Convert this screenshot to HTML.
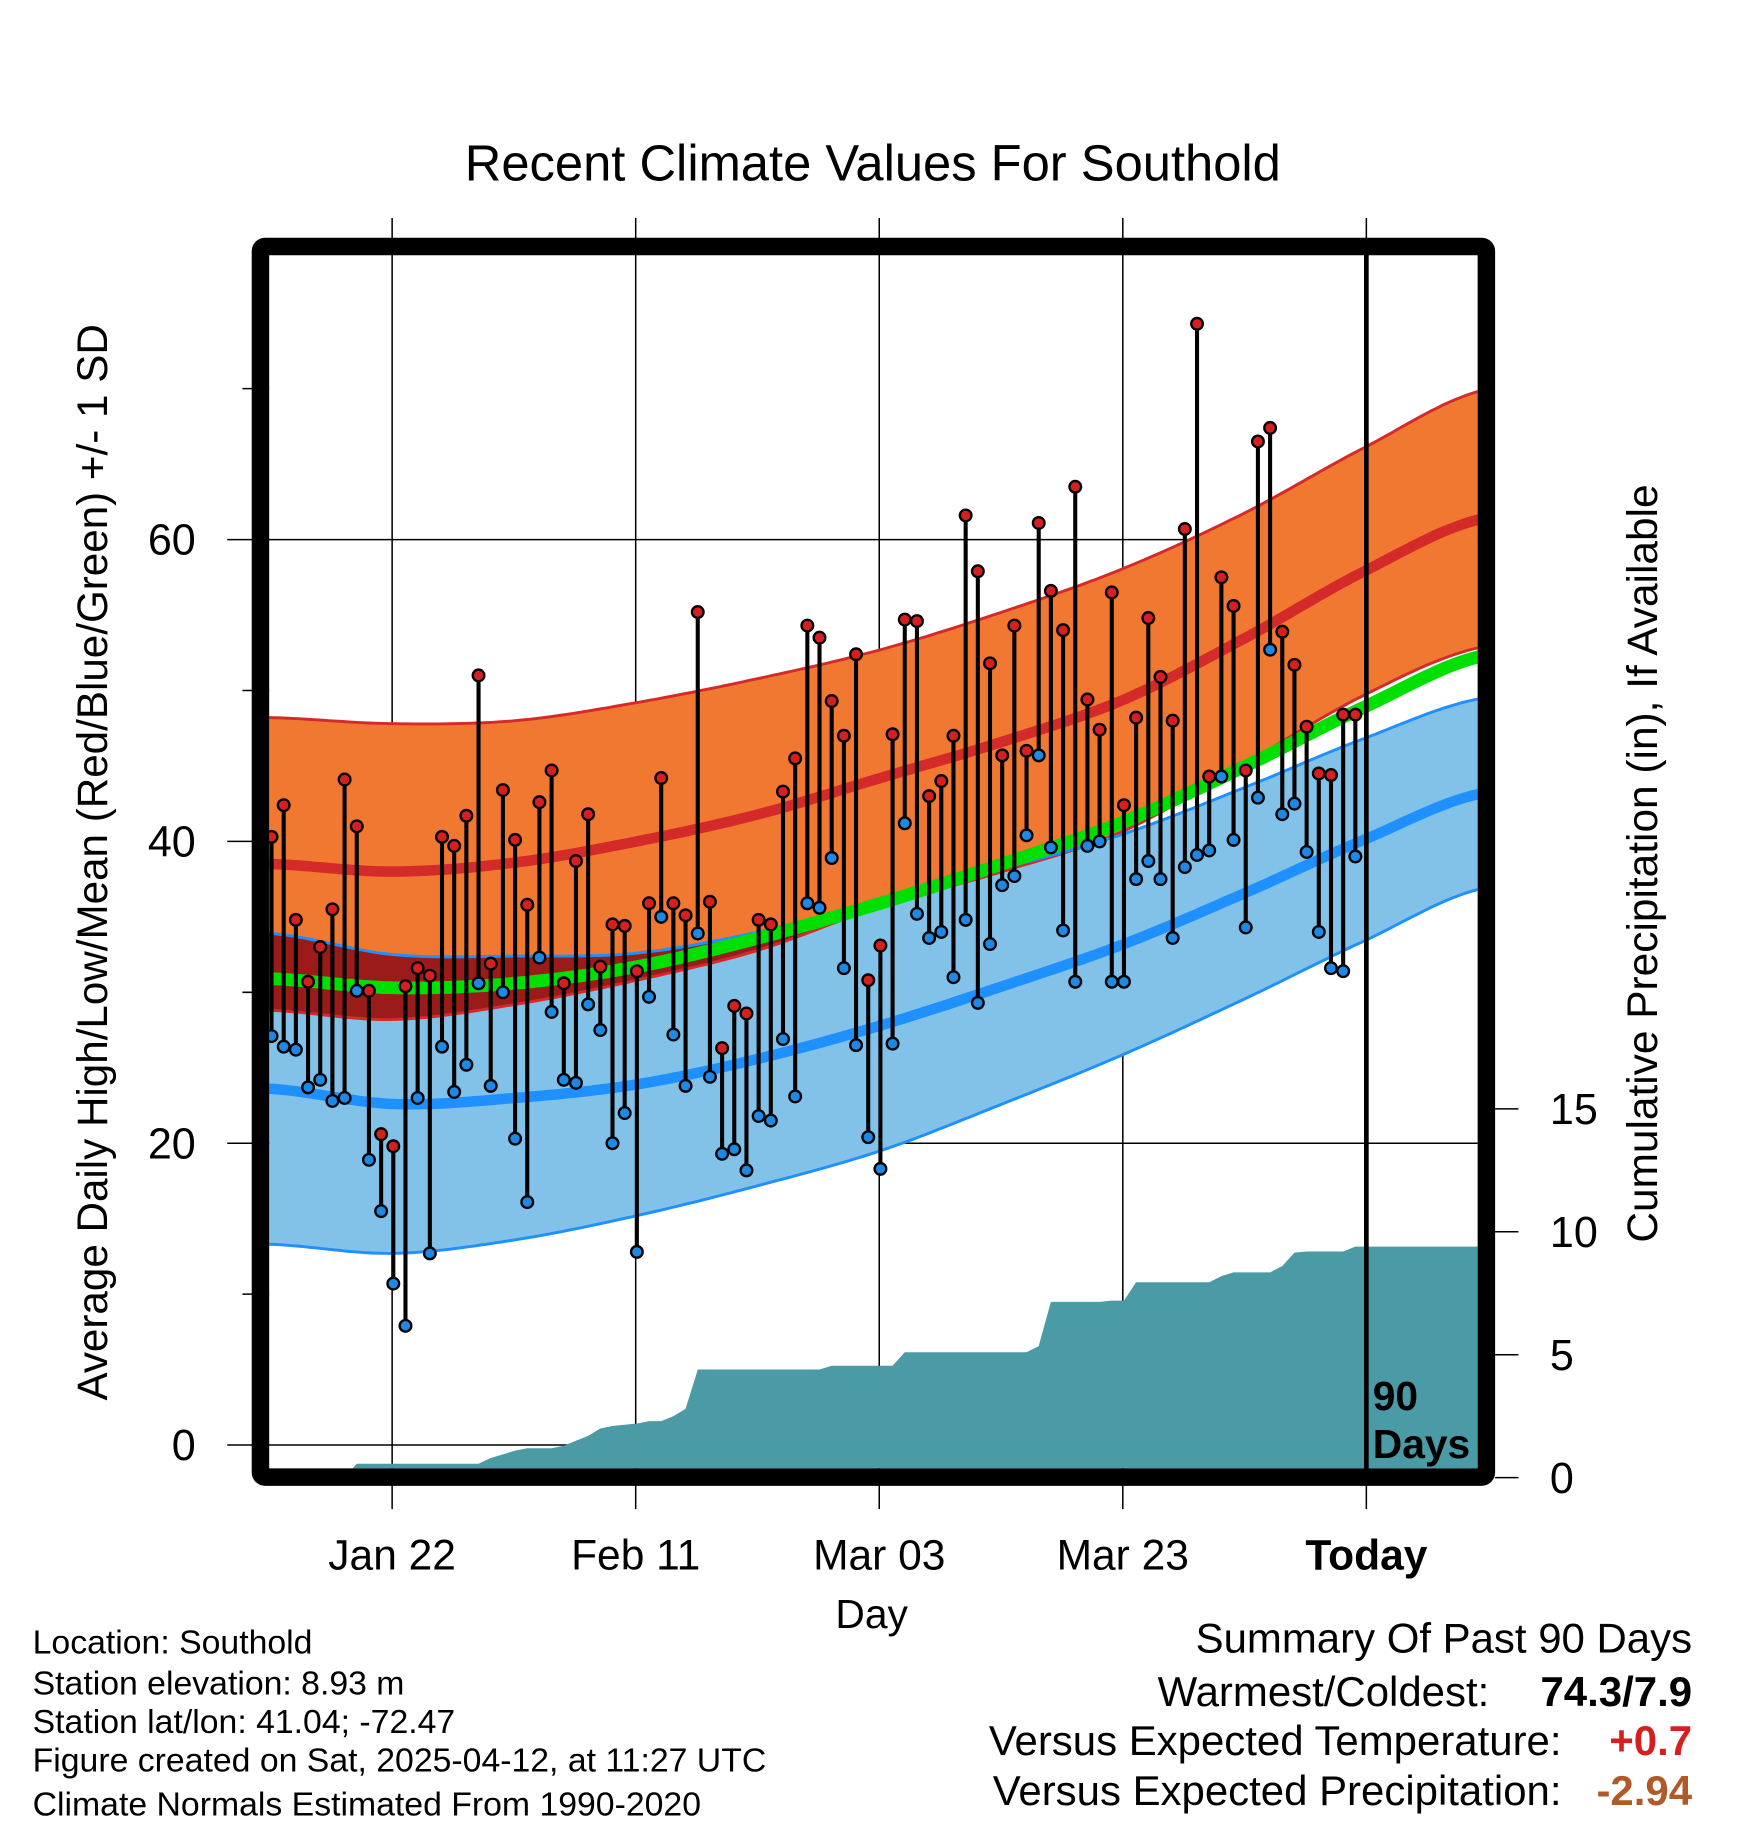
<!DOCTYPE html>
<html><head><meta charset="utf-8"><style>
html,body{margin:0;padding:0;background:#fff;}
svg{display:block;font-family:"Liberation Sans",Arial,sans-serif;}
</style></head><body>
<svg id="chart" width="1748" height="1828" viewBox="0 0 1500 1568.6" xmlns="http://www.w3.org/2000/svg">
<defs><clipPath id="pc"><rect x="231" y="218" width="1037" height="1042"/></clipPath></defs>
<rect width="1500" height="1569" fill="#fff"/>
<text x="749" y="155" font-size="43.5" text-anchor="middle">Recent Climate Values For Southold</text>
<g id="grid"></g>
<g id="plot" clip-path="url(#pc)"></g>
<g id="axes"></g>
<rect x="223.5" y="211.5" width="1052" height="1056" fill="none" stroke="#000" stroke-width="15" rx="4"/>
<text transform="translate(92,740) rotate(-90)" font-size="36.2" text-anchor="middle">Average Daily High/Low/Mean (Red/Blue/Green) +/- 1 SD</text>
<text transform="translate(1422,741) rotate(-90)" font-size="36.4" text-anchor="middle">Cumulative Precipitation (in), If Available</text>
<text x="748" y="1397" font-size="35" text-anchor="middle">Day</text>
<g font-size="29">
<text x="28" y="1419">Location: Southold</text>
<text x="28" y="1454">Station elevation: 8.93 m</text>
<text x="28" y="1487">Station lat/lon: 41.04; -72.47</text>
<text x="28" y="1520">Figure created on Sat, 2025-04-12, at 11:27 UTC</text>
<text x="28" y="1558">Climate Normals Estimated From 1990-2020</text>
</g>
<g font-size="36">
<text x="1452" y="1418" text-anchor="end">Summary Of Past 90 Days</text>
<text x="1278" y="1464" text-anchor="end">Warmest/Coldest:</text>
<text x="1452" y="1464" text-anchor="end" font-weight="bold">74.3/7.9</text>
<text x="1340" y="1506" text-anchor="end">Versus Expected Temperature:</text>
<text x="1452" y="1506" text-anchor="end" font-weight="bold" fill="#d62020">+0.7</text>
<text x="1340" y="1549" text-anchor="end">Versus Expected Precipitation:</text>
<text x="1452" y="1549" text-anchor="end" font-weight="bold" fill="#b05a28">-2.94</text>
</g>
</svg>
<script>
const highs=[40.3,42.4,34.8,30.7,33,35.5,44.1,41,30.1,20.6,19.8,30.4,31.6,31.1,40.3,39.7,41.7,51,31.9,43.4,40.1,35.8,42.6,44.7,30.6,38.7,41.8,31.7,34.5,34.4,31.4,35.9,44.2,35.9,35.1,55.2,36,26.3,29.1,28.6,34.8,34.5,43.3,45.5,54.3,53.5,49.3,47,52.4,30.8,33.1,47.1,54.7,54.6,43,44,47,61.6,57.9,51.8,45.7,54.3,46,61.1,56.6,54,63.5,49.4,47.4,56.5,42.4,48.2,54.8,50.9,48,60.7,74.3,44.3,57.5,55.6,44.7,66.5,67.4,53.9,51.7,47.6,44.5,44.4,48.4,48.4];
const lows=[27.1,26.4,26.2,23.7,24.2,22.8,23,30.1,18.9,15.5,10.7,7.9,23,12.7,26.4,23.4,25.2,30.6,23.8,30,20.3,16.1,32.3,28.7,24.2,24,29.2,27.5,20,22,12.8,29.7,35,27.2,23.8,33.9,24.4,19.3,19.6,18.2,21.8,21.5,26.9,23.1,35.9,35.6,38.9,31.6,26.5,20.4,18.3,26.6,41.2,35.2,33.6,34,31,34.8,29.3,33.2,37.1,37.7,40.4,45.7,39.6,34.1,30.7,39.7,40,30.7,30.7,37.5,38.7,37.5,33.6,38.3,39.1,39.4,44.3,40.1,34.3,42.9,52.7,41.8,42.5,39.3,34,31.6,31.4,39];
const precip=[0,0,0,0,0,0,0,0.57,0.57,0.57,0.57,0.57,0.57,0.57,0.57,0.57,0.57,0.57,0.8,0.95,1.1,1.2,1.2,1.2,1.3,1.5,1.7,2.0,2.1,2.15,2.2,2.3,2.3,2.5,2.8,4.4,4.4,4.4,4.4,4.4,4.4,4.4,4.4,4.4,4.4,4.4,4.55,4.55,4.55,4.55,4.55,4.55,5.1,5.1,5.1,5.1,5.1,5.1,5.1,5.1,5.1,5.1,5.1,5.35,7.15,7.15,7.15,7.15,7.15,7.2,7.2,7.95,7.95,7.95,7.95,7.95,7.95,7.95,8.2,8.35,8.35,8.35,8.35,8.6,9.15,9.2,9.2,9.2,9.2,9.4];
const normDays=[0,10,20,30,40,50,60,70,80,90,99.5];
const normHigh=[38.5,38,38.6,40,41.8,44.2,46.6,49.4,53.5,58,61.4];
const normHighUpper=[48.2,47.8,48,49.2,50.8,52.7,55.2,58.1,61.8,66.2,69.9];
const normLow=[23.6,22.6,23,23.9,25.6,27.8,30.4,33.2,36.6,40.2,43.2];
const normLowLower=[13.3,12.7,13.6,15.2,17.2,19.5,22.6,25.9,29.6,33.5,36.9];
const normMean=[30.9,30.3,30.6,31.7,33.6,35.9,38.5,41.3,45,49,52.3];
const tempTicks=[0,20,40,60];
const tempMinor=[10,30,50,70];
const precipTicks=[0,5,10,15];
const dateLabels=["Jan 22","Feb 11","Mar 03","Mar 23","Today"];
const dateDays=[10,30,50,70,90];

const NS="http://www.w3.org/2000/svg";
const X=d=>233+10.45*d;
const Y=t=>1240-12.95*t;
const YP=p=>1268-21.1*p;
function mk(tag,attrs,parent){const e=document.createElementNS(NS,tag);for(const k in attrs)e.setAttribute(k,attrs[k]);parent.appendChild(e);return e;}
function interp(arr,d){
  let i=0;while(i<normDays.length-2&&d>normDays[i+1])i++;
  const p0=arr[Math.max(i-1,0)],p1=arr[i],p2=arr[i+1],p3=arr[Math.min(i+2,arr.length-1)];
  const t=(d-normDays[i])/(normDays[i+1]-normDays[i]);
  return 0.5*((2*p1)+(-p0+p2)*t+(2*p0-5*p1+4*p2-p3)*t*t+(-p0+3*p1-3*p2+p3)*t*t*t);
}
const samp=[];for(let d=-0.3;d<=99.6;d+=0.5)samp.push(d);
const hiU=samp.map(d=>interp(normHighUpper,d));
const hiM=samp.map(d=>interp(normHigh,d));
const hiL=samp.map((d,i)=>2*hiM[i]-hiU[i]);
const loL=samp.map(d=>interp(normLowLower,d));
const loM=samp.map(d=>interp(normLow,d));
const loU=samp.map((d,i)=>2*loM[i]-loL[i]);
const mn=samp.map(d=>interp(normMean,d));
const line=(a)=>samp.map((d,i)=>X(d).toFixed(1)+","+Y(a[i]).toFixed(1)).join(" ");
const band=(top,bot)=>line(top)+" "+samp.map((d,i)=>X(d).toFixed(1)+","+Y(bot[i]).toFixed(1)).reverse().join(" ");

const grid=document.getElementById('grid');
const plot=document.getElementById('plot');
const axes=document.getElementById('axes');
tempTicks.forEach(t=>{
  const g=mk('line',{x1:195,x2:1268,y1:Y(t),y2:Y(t),stroke:'#000','stroke-width':1.3},grid);
  
  
  const l=mk('text',{x:168,y:Y(t)+13,'font-size':37,'text-anchor':'end'},axes);
  l.textContent=t;
  
  
});
tempMinor.forEach(t=>{
  const m=mk('line',{x1:208,x2:231,y1:Y(t),y2:Y(t),stroke:'#000','stroke-width':1.3},grid);
  
  
});
dateDays.forEach((d,i)=>{
  const x=X(d)-1;
  const g=mk('line',{x1:x,x2:x,y1:187,y2:1295,stroke:'#000','stroke-width':1.3},grid);
  
  
  const l=mk('text',{x:x,y:1347,'font-size':36.5,'text-anchor':'middle'},axes);
  if(i===4)l.setAttribute('font-weight','bold');
  l.textContent=dateLabels[i];
  
  
});
precipTicks.forEach(p=>{
  const t=mk('line',{x1:1283,x2:1303,y1:YP(p),y2:YP(p),stroke:'#000','stroke-width':1.3},axes);
  
  
  const l=mk('text',{x:1330,y:YP(p)+13,'font-size':37},axes);
  l.textContent=p;
  
  
});

let pts=X(-1)+","+YP(0)+" ";
precip.forEach((p,i)=>{pts+=X(i).toFixed(1)+","+YP(p).toFixed(1)+" ";});
pts+=X(100)+","+YP(precip[precip.length-1]).toFixed(1)+" "+X(100)+","+YP(0);
const pa=mk('polygon',{points:pts,fill:'#4a9ba5'},plot);



const lb=mk('polygon',{points:band(loU,loL),fill:'#82c2e8'},plot);


const hb=mk('polygon',{points:band(hiU,hiL),fill:'#f07830'},plot);


const ovTop=samp.map((d,i)=>Math.max(Math.min(loU[i],hiU[i]),hiL[i]));
const ov=mk('polygon',{points:band(ovTop,hiL),fill:'#9b1a1a'},plot);


[[hiU,'#d42a2a',2.5],[hiL,'#d42a2a',2.5],[loU,'#1e90ff',2.5],[loL,'#1e90ff',2.5]].forEach(a=>{
  const e=mk('polyline',{points:line(a[0]),fill:'none',stroke:a[1],'stroke-width':a[2]},plot);
  
  
});
const ml=mk('polyline',{points:line(hiM),fill:'none',stroke:'#d42a2a','stroke-width':9},plot);


const bl=mk('polyline',{points:line(loM),fill:'none',stroke:'#1e90ff','stroke-width':9},plot);


const gl=mk('polyline',{points:line(mn),fill:'none',stroke:'#00e000','stroke-width':11},plot);



highs.forEach((h,i)=>{
  const s=mk('line',{x1:X(i),x2:X(i),y1:Y(h),y2:Y(lows[i]),stroke:'#000','stroke-width':3.5},plot);
  
  
});
highs.forEach((h,i)=>{
  const a=mk('circle',{cx:X(i),cy:Y(h),r:5,fill:'#d62020',stroke:'#000','stroke-width':2},plot);
  
  
  const b=mk('circle',{cx:X(i),cy:Y(lows[i]),r:5,fill:'#1e88e5',stroke:'#000','stroke-width':2},plot);
  
  
});
const td=mk('line',{x1:X(90)-1,x2:X(90)-1,y1:218,y2:1262,stroke:'#000','stroke-width':4},plot);


const t1=mk('text',{x:1178,y:1210,'font-size':35,'font-weight':'bold'},plot);
t1.textContent='90';


const t2=mk('text',{x:1178,y:1251,'font-size':35,'font-weight':'bold'},plot);
t2.textContent='Days';


</script>
</body></html>
